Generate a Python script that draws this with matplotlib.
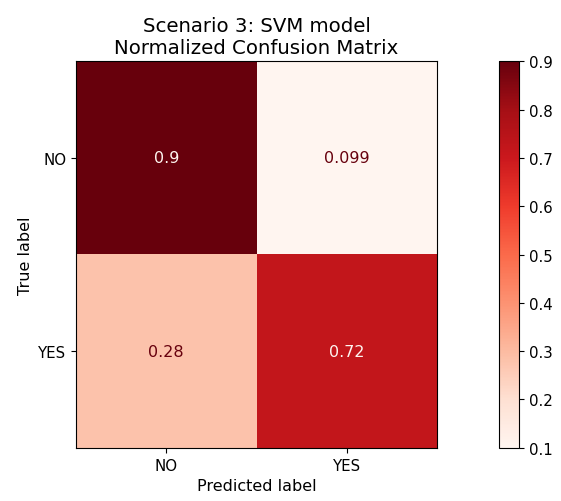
import numpy as np
import matplotlib
matplotlib.use('Agg')
import matplotlib.pyplot as plt

# --- Data ---
class_labels = ['NO', 'YES']
cm_values = np.array([[0.901, 0.099],
                      [0.28, 0.72]])
cell_text = [['0.9', '0.099'],
             ['0.28', '0.72']]

plt.rcParams['font.size'] = 10.8

fig = plt.figure(figsize=(5.61, 5.02), dpi=100)
ax = fig.add_axes([76/561, 1 - 449/502, 361/561, 387/502])
cax = fig.add_axes([499/561, 1 - 449/502, 20/561, 387/502])

cmap = plt.cm.Reds
im = ax.imshow(cm_values, cmap=cmap, aspect='auto', interpolation='nearest')
fig.colorbar(im, cax=cax)

vmin, vmax = cm_values.min(), cm_values.max()
thresh = (vmin + vmax) / 2
for i in range(cm_values.shape[0]):
    for j in range(cm_values.shape[1]):
        color = cmap(0.0) if cm_values[i, j] >= thresh else cmap(1.0)
        ax.text(j, i, cell_text[i][j], ha='center', va='center', color=color, fontsize=11.5)

ax.set_xticks(range(len(class_labels)))
ax.set_xticklabels(class_labels)
ax.set_yticks(range(len(class_labels)))
ax.set_yticklabels(class_labels)
ax.set_xlabel('Predicted label', fontsize=11.5)
ax.set_ylabel('True label', fontsize=11.5)
ax.set_title('Scenario 3: SVM model\nNormalized Confusion Matrix', fontsize=14.2)

fig.savefig('out.png', dpi=100)
